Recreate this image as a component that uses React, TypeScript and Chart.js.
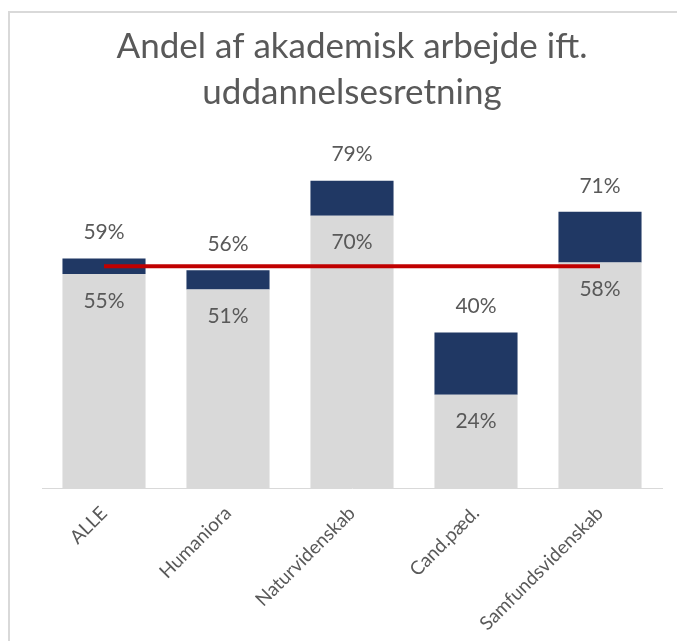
import React, { useEffect, useRef } from "react";
import { Chart, registerables } from "chart.js";

Chart.register(...registerables);

const categories = ["ALLE", "Humaniora", "Naturvidenskab", "Cand.pæd.", "Samfundsvidenskab"];
const totalValues = [59, 56, 79, 40, 71];
const academicValues = [55, 51, 70, 24, 58];
const referenceLine = [57, 57, 57, 57, 57];
const titleLines = ["Andel af akademisk arbejde ift.", "uddannelsesretning"];

const upperSegments = academicValues.map((v, i) => [v, totalValues[i]]);

const labelPlugin = {
  id: "valueLabels",
  afterDatasetsDraw(chart: any) {
    const ctx = chart.ctx;
    ctx.save();
    ctx.font = "21px Lato";
    ctx.fillStyle = "#595959";
    ctx.textAlign = "center";
    ctx.textBaseline = "middle";
    const yScale = chart.scales.y;
    const grey = chart.getDatasetMeta(1);
    grey.data.forEach((bar: any, i: number) => {
      const topY = yScale.getPixelForValue(totalValues[i]);
      ctx.fillText(totalValues[i] + "%", bar.x, topY - 26);
      ctx.fillText(academicValues[i] + "%", bar.x, bar.y + 27);
    });
    ctx.restore();
  },
};

export default function App() {
  const ref = useRef<HTMLCanvasElement>(null);
  useEffect(() => {
    if (!ref.current) return;
    const chart = new Chart(ref.current, {
      type: "bar",
      data: {
        labels: categories,
        datasets: [
          {
            type: "bar",
            data: upperSegments,
            backgroundColor: "#203864",
            grouped: false,
            barPercentage: 0.67,
            categoryPercentage: 1,
            borderWidth: 0,
            order: 3,
          } as any,
          {
            type: "bar",
            data: academicValues,
            backgroundColor: "#D9D9D9",
            grouped: false,
            barPercentage: 0.67,
            categoryPercentage: 1,
            borderWidth: 0,
            order: 2,
          } as any,
          {
            type: "line",
            data: referenceLine,
            borderColor: "#C00000",
            borderWidth: 4,
            pointRadius: 0,
            fill: false,
            order: 1,
          } as any,
        ],
      },
      options: {
        responsive: false,
        animation: false,
        layout: { padding: { left: 32, right: 15, top: 0, bottom: 0 } },
        plugins: {
          legend: { display: false },
          tooltip: { enabled: false },
          title: {
            display: true,
            text: titleLines,
            color: "#595959",
            font: { family: "Lato", size: 35, weight: "normal", lineHeight: 1.3 },
            padding: { top: 11, bottom: 12 },
          },
        },
        scales: {
          x: {
            grid: { display: false },
            border: { color: "#D9D9D9", width: 1 },
            ticks: {
              color: "#595959",
              font: { family: "Lato", size: 19 },
              minRotation: 45,
              maxRotation: 45,
              padding: 6,
            },
          },
          y: {
            display: false,
            min: 0,
            max: 92.8,
          },
        },
      },
      plugins: [labelPlugin],
    });
    return () => chart.destroy();
  }, []);
  return (
    <div
      style={{
        position: "absolute",
        left: 8,
        top: 11,
        width: 669,
        height: 630,
        borderTop: "2px solid #D9D9D9",
        borderLeft: "2px solid #D9D9D9",
        boxSizing: "border-box",
        background: "#fff",
      }}
    >
      <canvas ref={ref} width={667} height={628} style={{ display: "block" }} />
    </div>
  );
}
